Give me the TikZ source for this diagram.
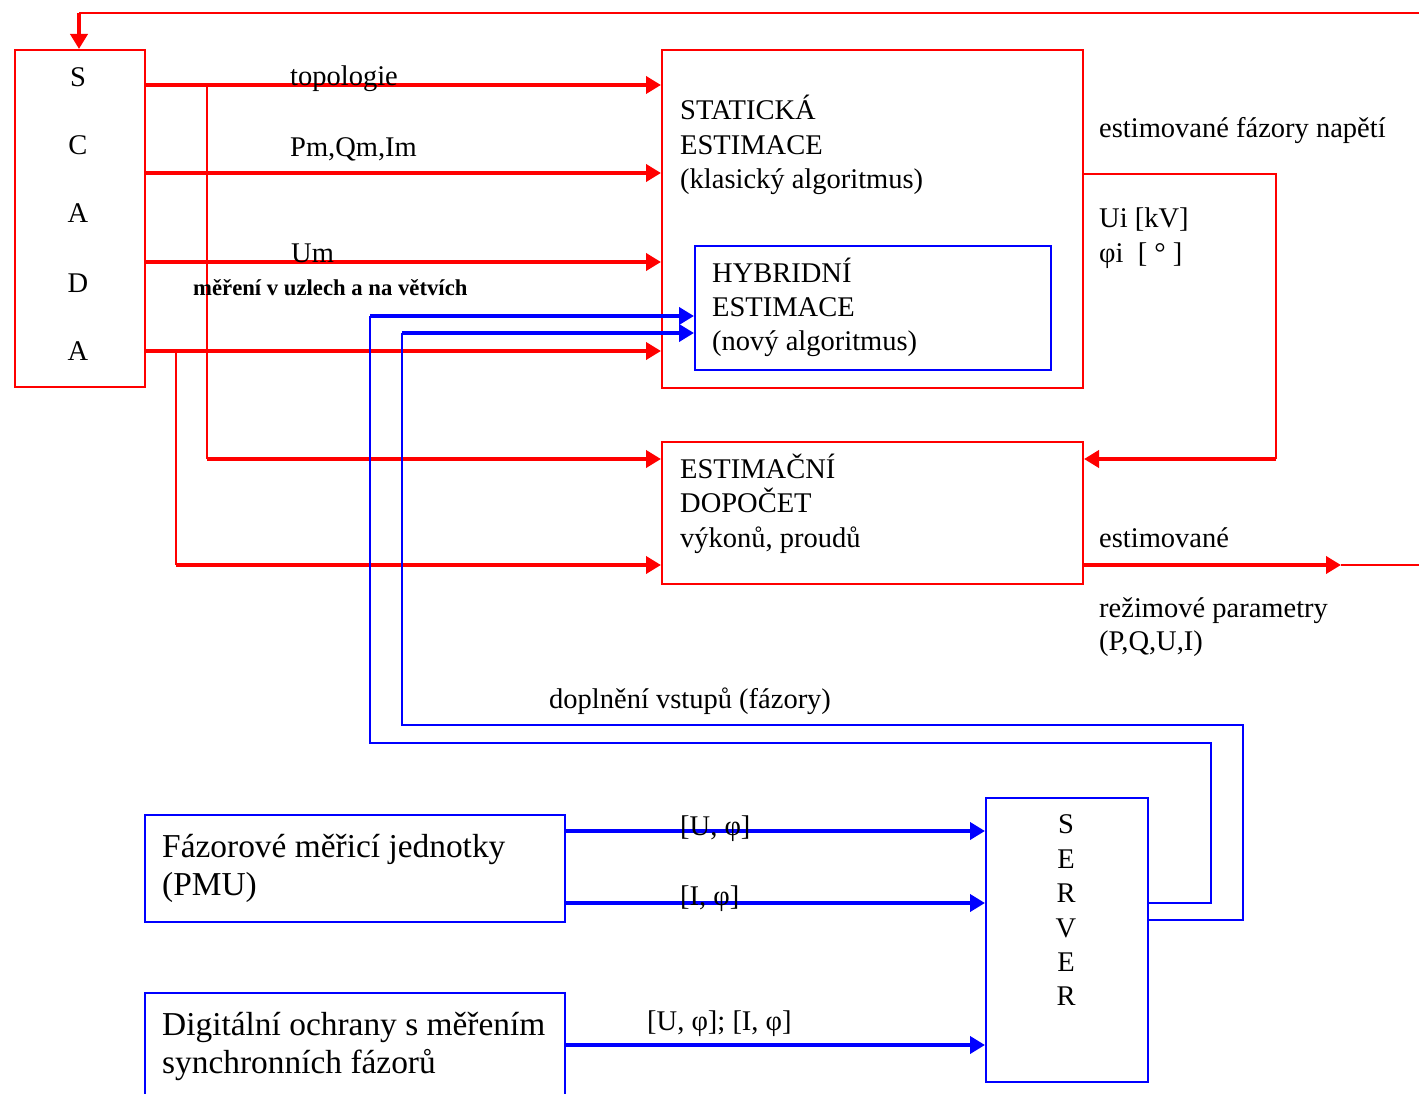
\documentclass[tikz,border=0pt]{standalone}
\usepackage{fontspec}
\setmainfont{Liberation Serif}
\usetikzlibrary{arrows.meta}
\tikzset{
  rbox/.style={draw=red, line width=2pt, anchor=north west, inner sep=0pt},
  bbox/.style={draw=blue, line width=2pt, anchor=north west, inner sep=0pt},
  rthin/.style={draw=red, line width=2.5pt},
  bthin/.style={draw=blue, line width=2.5pt},
  rarr/.style={draw=red, line width=4pt, -{Triangle[length=15pt,width=17pt]}},
  barr/.style={draw=blue, line width=4.5pt, -{Triangle[length=15pt,width=17pt]}},
  txt/.style={anchor=base west, inner sep=0pt, font=\fontsize{28.5}{34.5}\selectfont},
  ctxt/.style={anchor=base, inner sep=0pt, font=\fontsize{28.5}{34.5}\selectfont},
  small/.style={anchor=base west, inner sep=0pt, font=\fontsize{22.7}{27}\selectfont\bfseries},
  big/.style={anchor=base west, inner sep=0pt, font=\fontsize{33.4}{38}\selectfont},
}
\begin{document}
\begin{tikzpicture}[x=1pt,y=-1pt]
\useasboundingbox (0,0) rectangle (1419,1094);
\fill[white] (0,0) rectangle (1419,1094);

% blocks
\node[rbox, minimum width=130pt, minimum height=337pt] (scada) at (14,49) {};
\node[rbox, minimum width=421pt, minimum height=338pt] (stat) at (661,49) {};
\node[bbox, minimum width=356pt, minimum height=124pt] (hyb) at (694,245) {};
\node[rbox, minimum width=421pt, minimum height=142pt] (estd) at (661,441) {};
\node[bbox, minimum width=420pt, minimum height=107pt] (pmu) at (144,814) {};
\node[bbox, minimum width=420pt, minimum height=130pt] (dig) at (144,992) {};
\node[bbox, minimum width=162pt, minimum height=284pt] (srv) at (985,797) {};

% SCADA letters
\node[ctxt] (sc1) at (78,87) {S};
\node[ctxt] (sc2) at (78,155) {C};
\node[ctxt] (sc3) at (78,223) {A};
\node[ctxt] (sc4) at (78,292) {D};
\node[ctxt] (sc5) at (78,360) {A};

% SERVER letters
\node[ctxt] (sv1) at (1066,833) {S};
\node[ctxt] (sv2) at (1066,868) {E};
\node[ctxt] (sv3) at (1066,902) {R};
\node[ctxt] (sv4) at (1066,937) {V};
\node[ctxt] (sv5) at (1066,971) {E};
\node[ctxt] (sv6) at (1066,1005) {R};

% block texts
\node[txt] (st1) at (680,120) {STATICKÁ};
\node[txt] (st2) at (680,155) {ESTIMACE};
\node[txt] (st3) at (680,189) {(klasický algoritmus)};
\node[txt] (hy1) at (712,282) {HYBRIDNÍ};
\node[txt] (hy2) at (712,316) {ESTIMACE};
\node[txt] (hy3) at (712,350) {(nový algoritmus)};
\node[txt] (ed1) at (680,478) {ESTIMAČNÍ};
\node[txt] (ed2) at (680,512) {DOPOČET};
\node[txt] (ed3) at (680,547) {výkonů, proudů};
\node[big] (pm1) at (162,857) {Fázorové měřicí jednotky};
\node[big] (pm2) at (162,895) {(PMU)};
\node[big] (dg1) at (162,1035) {Digitální ochrany s měřením};
\node[big] (dg2) at (162,1073) {synchronních fázorů};

% junction and corner points
\coordinate (top1) at (1419,13);
\coordinate (top2) at (79,13);
\coordinate (j1) at (207,85);
\coordinate (k1) at (207,459);
\coordinate (j2) at (176,351);
\coordinate (k2) at (176,565);
\coordinate (o1) at (1276,174);
\coordinate (o2) at (1276,459);
\coordinate (e1) at (1341,565);
\coordinate (e2) at (1419,565);
\coordinate (a1) at (1211,903);
\coordinate (a2) at (1211,743);
\coordinate (a3) at (370,743);
\coordinate (a4) at (370,316);
\coordinate (c1) at (1243,920);
\coordinate (c2) at (1243,725);
\coordinate (c3) at (402,725);
\coordinate (c4) at (402,333);

% red connectors
\draw[rthin] (top1) -- (top2);
\draw[rarr] (top2) -- (scada.north -| top2);
\draw[rthin] (j1) -- (k1);
\draw[rthin] (j2) -- (k2);
\draw[rarr] (scada.east |- 0,85) -- (stat.west |- 0,85);
\draw[rarr] (scada.east |- 0,173) -- (stat.west |- 0,173);
\draw[rarr] (scada.east |- 0,262) -- (stat.west |- 0,262);
\draw[rarr] (scada.east |- 0,351) -- (stat.west |- 0,351);
\draw[rarr] (k1) -- (estd.west |- k1);
\draw[rarr] (k2) -- (estd.west |- k2);
\draw[rthin] (stat.east |- o1) -- (o1) -- (o2);
\draw[rarr] (o2) -- (estd.east |- o2);
\draw[rthin] (e1) -- (e2);
\draw[rarr] (estd.east |- e1) -- (e1);

% blue connectors
\draw[bthin] (srv.east |- a1) -- (a1) -- (a2) -- (a3) -- (a4);
\draw[barr] (a4) -- (hyb.west |- a4);
\draw[bthin] (srv.east |- c1) -- (c1) -- (c2) -- (c3) -- (c4);
\draw[barr] (c4) -- (hyb.west |- c4);
\draw[barr] (pmu.east |- 0,831) -- (srv.west |- 0,831);
\draw[barr] (pmu.east |- 0,903) -- (srv.west |- 0,903);
\draw[barr] (dig.east |- 0,1045) -- (srv.west |- 0,1045);

% connector labels
\node[txt] (l1) at (290,86) {topologie};
\node[txt] (l2) at (290,157) {Pm,Qm,Im};
\node[txt] (l3) at (291,262) {Um};
\node[small] (l4) at (193,295) {měření v uzlech a na větvích};
\node[txt] (l5) at (1099,138) {estimované fázory napětí};
\node[txt] (l6) at (1099,228) {Ui [kV]};
\node[txt] (l7) at (1099,262) {φi~~[~°~]};
\node[txt] (l8) at (1099,547) {estimované};
\node[txt] (l9) at (1099,617) {režimové parametry};
\node[txt] (l10) at (1099,650) {(P,Q,U,I)};
\node[txt] (l11) at (549,708) {doplnění vstupů (fázory)};
\node[txt] (l12) at (680,835) {[U, φ]};
\node[txt] (l13) at (680,905) {[I, φ]};
\node[txt] (l14) at (647,1030) {[U, φ]; [I, φ]};
\end{tikzpicture}
\end{document}
